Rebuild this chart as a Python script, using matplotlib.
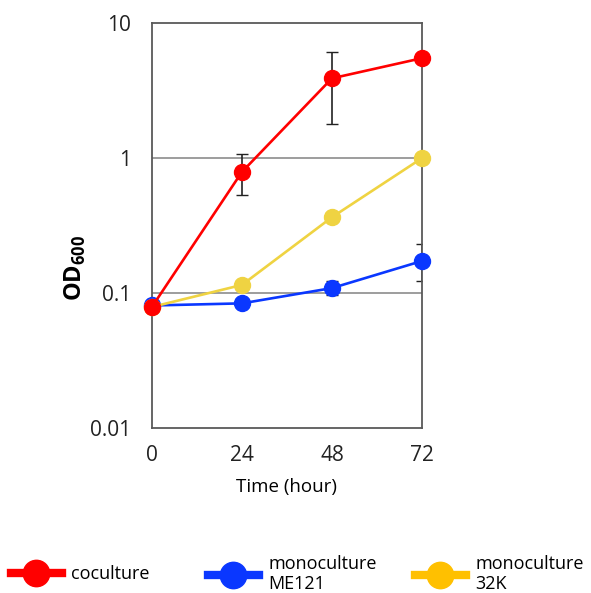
import matplotlib
matplotlib.use("agg")
import matplotlib.pyplot as plt
from matplotlib.lines import Line2D

plt.rcParams["font.family"] = ["Open Sans", "DejaVu Sans"]
plt.rcParams["mathtext.fontset"] = "custom"
plt.rcParams["mathtext.rm"] = "Open Sans"
plt.rcParams["mathtext.bf"] = "Open Sans:bold"

time = [0, 24, 48, 72]

coculture = [0.079, 0.79, 3.9, 5.5]
coculture_lo = [0.079, 0.53, 1.8, 5.5]
coculture_hi = [0.079, 1.07, 6.1, 5.5]

mono_me121 = [0.081, 0.084, 0.109, 0.173]
mono_me121_lo = [0.081, 0.084, 0.097, 0.123]
mono_me121_hi = [0.081, 0.084, 0.122, 0.23]

mono_32k = [0.079, 0.115, 0.365, 1.0]

labels = ["coculture", "monoculture\nME121", "monoculture\n32K"]

RED = "#ff0000"
BLUE = "#0a37ff"
YELLOW = "#efd342"
YELLOW_LEG = "#ffc000"

fig = plt.figure(figsize=(5.91, 5.93), dpi=100)
ax = fig.add_axes([0.257, 0.278, 0.457, 0.683])

ax.set_yscale("log")
ax.set_ylim(0.01, 10)
ax.set_xlim(0, 72)

for yv in [0.1, 1]:
    ax.axhline(yv, color="#8c8c8c", lw=1.2, zorder=1)

def errs(v, lo, hi):
    return [[a - b for a, b in zip(v, lo)], [c - a for a, c in zip(v, hi)]]

ax.errorbar(time, coculture, yerr=errs(coculture, coculture_lo, coculture_hi),
            fmt="none", ecolor="#222222", elinewidth=1.2, capsize=4, zorder=2)
ax.errorbar(time, mono_me121, yerr=errs(mono_me121, mono_me121_lo, mono_me121_hi),
            fmt="none", ecolor="#222222", elinewidth=1.2, capsize=4, zorder=2)

ax.plot(time, mono_me121, color=BLUE, marker="o", ms=11.5, lw=1.9, zorder=3,
        clip_on=False)
ax.plot(time, mono_32k, color=YELLOW, marker="o", ms=11.5, lw=1.9, zorder=4,
        clip_on=False)
ax.plot(time, coculture, color=RED, marker="o", ms=11.5, lw=1.9, zorder=5,
        clip_on=False)

ax.set_xticks(time)
ax.set_yticks([0.01, 0.1, 1, 10])
ax.set_yticklabels(["0.01", "0.1", "1", "10"])
ax.minorticks_off()
ax.tick_params(length=0, labelsize=15, colors="#222222")
ax.tick_params(axis="y", pad=15)
ax.tick_params(axis="x", pad=12)
for s in ax.spines.values():
    s.set_color("#595959")
    s.set_linewidth(1.3)

ax.set_xlabel("Time (hour)", fontsize=13.5, labelpad=9)
ax.set_ylabel(r"$\mathbf{OD}_{\mathbf{600}}$", fontsize=17)
ax.yaxis.set_label_coords(-0.235, 0.395)

handles = [
    Line2D([], [], color=RED, marker="o", ms=19, lw=6),
    Line2D([], [], color=BLUE, marker="o", ms=19, lw=6),
    Line2D([], [], color=YELLOW_LEG, marker="o", ms=19, lw=6),
]
leg_x = [11, 208, 415]
for h, lab, x in zip(handles, labels, leg_x):
    fig.legend([h], [lab], loc="center left", bbox_to_anchor=(x / 591, 1 - 574 / 593),
               frameon=False, fontsize=13, handlelength=2.8, handletextpad=0.55,
               borderpad=0, borderaxespad=0, labelspacing=0.2)

fig.savefig("out.png", dpi=100)
